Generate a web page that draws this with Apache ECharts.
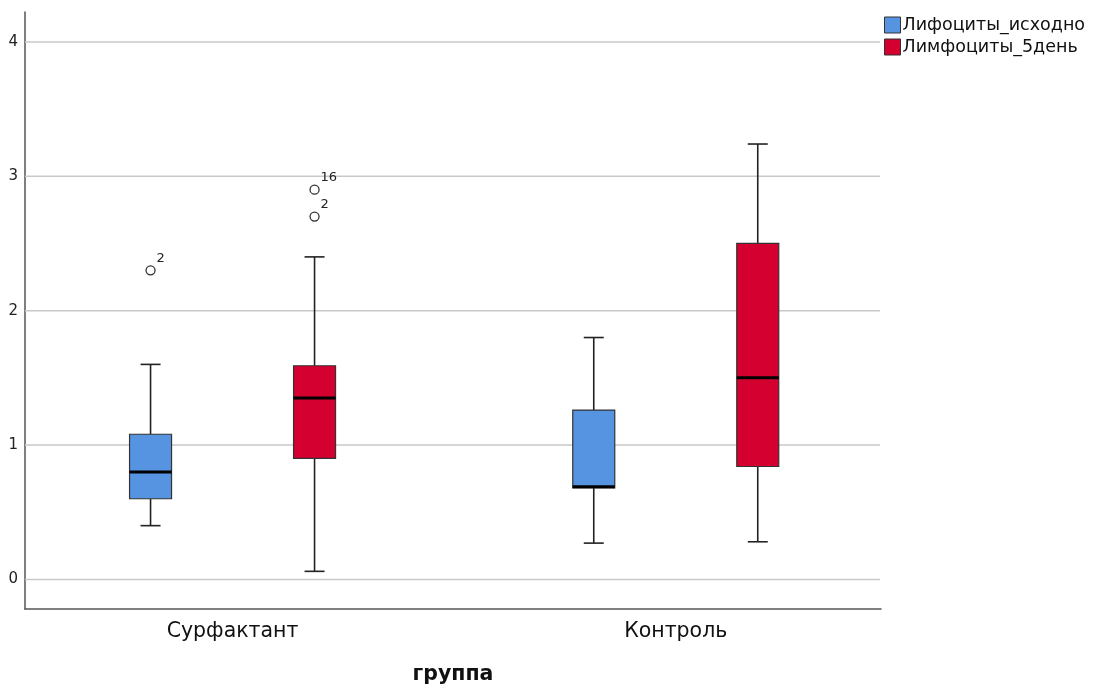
<!DOCTYPE html>
<html>
<head>
<meta charset="utf-8">
<script src="https://cdn.jsdelivr.net/npm/echarts@6/dist/echarts.min.js"></script>
<style>
  html, body { margin: 0; padding: 0; background: #fff; }
  #chart { width: 1101px; height: 690px; }
</style>
</head>
<body>
<div id="chart"></div>
<script>
// Groups on the x axis and the two measured series
const groups = ['Сурфактант', 'Контроль'];
const seriesNames = ['Лифоциты_исходно', 'Лимфоциты_5день'];

// Box summaries per group: [min whisker, Q1, median, Q3, max whisker]
const baselineBoxes = [
  [0.40, 0.60, 0.80, 1.08, 1.60],
  [0.27, 0.68, 0.69, 1.26, 1.80]
];
const day5Boxes = [
  [0.06, 0.90, 1.35, 1.59, 2.40],
  [0.28, 0.84, 1.50, 2.50, 3.24]
];

// Outliers: [group index, value, case label]
const baselineOutliers = [
  [0, 2.30, '2']
];
const day5Outliers = [
  [0, 2.90, '16'],
  [0, 2.70, '2']
];

// Y axis tick labels
const yTicks = [0, 1, 2, 3, 4];

const colors = ['#5694E2', '#D40030'];
const FONT = 'DejaVu Sans';
const X_MIN = -0.4683, X_MAX = 1.4631;
const Y_MIN = -0.2203, Y_MAX = 4.2225;
const BOX_SHIFT = 82;   // px from group centre to each box
const BOX_W = 42;
const CAP_W = 20;

function boxRenderer(shift) {
  return function (params, api) {
    const g = api.value(0);
    const vals = [api.value(1), api.value(2), api.value(3), api.value(4), api.value(5)];
    const pts = vals.map(v => api.coord([g, v]));
    const cx = pts[0][0] + shift;
    const yLow = pts[0][1], yQ1 = pts[1][1], yMed = pts[2][1], yQ3 = pts[3][1], yHigh = pts[4][1];
    const color = api.visual('color');
    const lineStyle = { stroke: '#222', lineWidth: 1.6 };
    return {
      type: 'group',
      children: [
        { type: 'line', shape: { x1: cx, y1: yLow, x2: cx, y2: yQ1 }, style: lineStyle },
        { type: 'line', shape: { x1: cx, y1: yQ3, x2: cx, y2: yHigh }, style: lineStyle },
        { type: 'line', shape: { x1: cx - CAP_W / 2, y1: yLow, x2: cx + CAP_W / 2, y2: yLow }, style: lineStyle },
        { type: 'line', shape: { x1: cx - CAP_W / 2, y1: yHigh, x2: cx + CAP_W / 2, y2: yHigh }, style: lineStyle },
        { type: 'rect', shape: { x: cx - BOX_W / 2, y: yQ3, width: BOX_W, height: yQ1 - yQ3 },
          style: { fill: color, stroke: '#333', lineWidth: 1.2 } },
        { type: 'line', shape: { x1: cx - BOX_W / 2, y1: yMed, x2: cx + BOX_W / 2, y2: yMed },
          style: { stroke: '#000', lineWidth: 3 } }
      ]
    };
  };
}

function outlierRenderer(shift, list) {
  return function (params, api) {
    const p = api.coord([api.value(0), api.value(1)]);
    const cx = p[0] + shift, cy = p[1];
    const label = list[params.dataIndex][2];
    return {
      type: 'group',
      children: [
        { type: 'circle', shape: { cx: cx, cy: cy, r: 4.5 },
          style: { fill: '#fff', stroke: '#333', lineWidth: 1.3 } },
        { type: 'text', x: cx + 6, y: cy - 12,
          style: { text: label, fill: '#222', font: '13px ' + FONT, verticalAlign: 'middle', align: 'left' } }
      ]
    };
  };
}

const chart = echarts.init(document.getElementById('chart'), null, { renderer: 'canvas' });

const toRows = boxes => boxes.map((b, i) => [i].concat(b));

chart.setOption({
  animation: false,
  backgroundColor: '#fff',
  textStyle: { fontFamily: FONT },
  legend: {
    data: seriesNames,
    left: 879,
    top: 11,
    orient: 'vertical',
    icon: 'rect',
    itemWidth: 16,
    itemHeight: 16,
    itemGap: 4,
    textStyle: { fontFamily: FONT, fontSize: 17.5, lineHeight: 16, color: '#111', padding: [0, 0, 0, -3] },
    itemStyle: { borderColor: '#333', borderWidth: 1 }
  },
  grid: { left: 25, right: 220, top: 12, bottom: 79 },
  xAxis: {
    type: 'value',
    min: X_MIN,
    max: X_MAX,
    name: 'группа',
    nameLocation: 'middle',
    nameGap: 55,
    nameTextStyle: { fontFamily: FONT, fontSize: 20.5, fontWeight: 'bold', color: '#111' },
    axisLine: { show: true, onZero: false, lineStyle: { color: '#555', width: 1.5 } },
    axisTick: { show: false },
    splitLine: { show: false },
    axisLabel: {
      customValues: groups.map((g, i) => i),
      formatter: v => groups[Math.round(v)] || '',
      fontFamily: FONT, fontSize: 20.5, color: '#111', margin: 12
    }
  },
  yAxis: {
    type: 'value',
    min: Y_MIN,
    max: Y_MAX,
    axisLine: { show: true, onZero: false, lineStyle: { color: '#555', width: 1.5 } },
    axisTick: { show: false },
    axisLabel: {
      customValues: yTicks,
      fontFamily: FONT, fontSize: 15, color: '#222', margin: 7
    },
    splitLine: { show: false }
  },
  series: [
    {
      name: seriesNames[0], type: 'custom', itemStyle: { color: colors[0] },
      renderItem: boxRenderer(-BOX_SHIFT),
      encode: { x: 0, y: [1, 2, 3, 4, 5] },
      data: toRows(baselineBoxes), z: 3
    },
    {
      name: seriesNames[1], type: 'custom', itemStyle: { color: colors[1] },
      renderItem: boxRenderer(BOX_SHIFT),
      encode: { x: 0, y: [1, 2, 3, 4, 5] },
      data: toRows(day5Boxes), z: 3
    },
    {
      type: 'custom', renderItem: outlierRenderer(-BOX_SHIFT, baselineOutliers),
      encode: { x: 0, y: 1 }, data: baselineOutliers.map(o => [o[0], o[1]]), z: 4
    },
    {
      type: 'custom', renderItem: outlierRenderer(BOX_SHIFT, day5Outliers),
      encode: { x: 0, y: 1 }, data: day5Outliers.map(o => [o[0], o[1]]), z: 4
    },
    {
      // horizontal grid lines at each labelled y tick
      type: 'custom', silent: true, z: 1,
      renderItem: function (params, api) {
        const v = api.value(0);
        const left = api.coord([X_MIN, v]);
        const right = api.coord([X_MAX, v]);
        return { type: 'line', shape: { x1: left[0], y1: left[1], x2: right[0] - 1, y2: right[1] },
          style: { stroke: '#c9c9c9', lineWidth: 1.5 } };
      },
      encode: { y: 0 },
      data: yTicks.map(t => [t])
    }
  ]
});
</script>
</body>
</html>
